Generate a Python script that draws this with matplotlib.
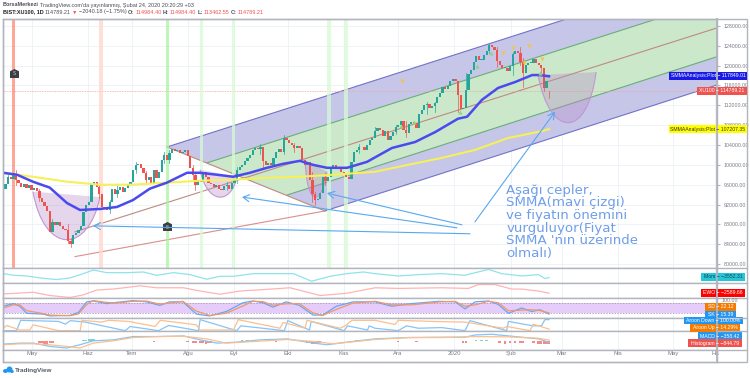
import matplotlib
matplotlib.use("Agg")
import matplotlib.pyplot as plt
from matplotlib.path import Path
from matplotlib.patches import PathPatch, Polygon, Rectangle, Ellipse

W, H = 750, 378

# daily closes (thousands), one per bar
closes = [
    95.2, 96.2, 97.5, 97.2, 98.1, 96.9, 96.3, 95.6, 96.1, 95.4,
    95.9, 95.0, 95.4, 94.7, 93.4, 92.6, 91.6, 90.6, 86.5, 88.4,
    87.9, 88.4, 87.6, 87.0, 86.8, 84.6, 84.0, 85.8, 86.2, 86.9,
    87.6, 90.4, 91.9, 92.6, 96.1, 96.6, 95.5, 94.2, 91.5, 91.3,
    90.9, 92.5, 95.2, 94.2, 95.0, 95.6, 94.6, 95.3, 96.2, 96.6,
    99.0, 100.0, 100.2, 99.4, 98.3, 96.9, 97.5, 96.2, 98.9, 97.4,
    98.6, 101.0, 102.0, 101.0, 102.4, 103.2, 102.7, 103.0, 102.4, 102.6,
    102.9, 101.8, 99.4, 98.0, 95.9, 97.0, 96.5, 98.5, 97.6, 96.4,
    96.2, 95.5, 95.9, 95.2, 95.0, 95.7, 95.9, 95.2, 96.4, 97.2,
    99.0, 99.6, 99.9, 100.8, 101.3, 101.9, 102.9, 103.4, 103.1, 103.6,
    100.7, 99.9, 100.3, 99.9, 101.4, 102.6, 103.2, 102.6, 105.4, 105.0,
    104.4, 104.0, 103.4, 103.8, 103.4, 101.0, 100.0, 100.5, 97.0, 94.2,
    93.0, 93.2, 94.4, 97.5, 96.8, 97.6, 99.4, 100.0, 99.2, 99.3,
    98.6, 97.9, 97.5, 97.2, 100.5, 102.5, 103.0, 103.5, 103.6, 103.0,
    103.9, 105.0, 105.4, 106.9, 107.4, 107.0, 105.8, 106.9, 105.0, 105.8,
    106.6, 107.6, 108.0, 108.8, 107.0, 106.4, 108.2, 108.6, 108.4, 107.4,
    110.2, 111.0, 112.0, 112.2, 111.4, 111.8, 112.4, 113.6, 114.5, 115.6,
    115.2, 115.9, 116.8, 117.4, 116.8, 114.0, 111.2, 111.4, 115.0, 118.4,
    119.2, 120.8, 121.9, 121.2, 121.2, 122.2, 123.0, 124.1, 123.7, 123.2,
    121.0, 120.2, 119.6, 119.6, 119.0, 120.0, 122.4, 123.0, 122.6, 120.8,
    118.6, 120.2, 120.6, 120.6, 121.4, 120.6, 120.2, 119.5, 115.5, 116.8,
    114.79,
]
first_open = 94.6
last_open = 114.98

wick_bars = [2, 5, 14, 19, 25, 26, 37, 41, 44, 51, 55, 62, 64, 73, 74, 86, 90, 99, 100, 108,
             112, 119, 120, 124, 137, 143, 151, 155, 163, 166, 175, 178, 187, 190, 196, 199, 200, 207, 208, 210]
wick_highs = [98.0, 99.0, 95.2, 89.0, 88.0, 85.2, 96.0, 93.0, 96.0, 100.6, 98.8, 102.6, 103.0, 99.9, 98.6, 96.6, 99.6,
              104.2, 103.4, 106.0, 104.4, 98.5, 94.6, 98.4, 104.2, 107.6, 108.0, 108.8, 112.6, 112.6, 117.0, 118.6, 124.6,
              123.8, 122.8, 123.8, 121.6, 120.2, 119.6, 114.98]
wick_lows = [96.5, 96.0, 92.8, 87.2, 84.2, 83.4, 93.4, 90.2, 93.6, 98.4, 96.2, 100.4, 100.4, 96.9, 95.0, 94.9, 96.4,
             102.2, 99.4, 102.2, 102.6, 92.6, 92.0, 96.0, 102.4, 105.6, 106.2, 105.6, 110.2, 110.6, 110.6, 114.6, 122.6,
             119.8, 118.2, 120.2, 115.6, 118.2, 114.8, 113.46]

smma_x = [0, 5.4, 11.5, 18, 24.6, 29.6, 37.3, 43.8, 50, 56.5, 63, 70.8, 75.8, 82.3, 88.5, 95, 101.5, 107.7, 114.2, 119.2,
          124.6, 132.3, 140, 149.6, 158.5, 166.2, 175, 178.5, 184.2, 190.4, 197, 203.5, 206.5, 210]
smma_fast = [98.4, 98.0, 96.6, 95.4, 92.3, 90.9, 91.1, 91.5, 92.9, 95.2, 96.4, 98.4, 98.4, 98.0, 97.6, 98.4, 99.4, 100.2,
             100.8, 100.0, 99.4, 99.4, 100.6, 103.4, 104.6, 106.6, 109.3, 109.7, 113.1, 115.5, 116.7, 118.1, 118.1, 117.85]
smma2_x = [0, 11.5, 24.6, 37.3, 50, 63, 75.8, 88.5, 101.5, 114.2, 127, 143.1, 155.8, 168.8, 181.5, 194.2, 207.3, 210]
smma_slow = [98.4, 97.6, 96.6, 96.0, 96.0, 96.4, 96.8, 97.0, 97.4, 97.6, 98.0, 98.6, 100.0, 101.4, 103.0, 105.4, 106.8, 107.2]

# channel corners (bar, price)
outer_channel = [(63.1, 103.6), (217.3, 129.5), (274.6, 129.5), (274.6, 116.1), (123.8, 90.7)]
inner_channel = [(78.5, 100.4), (251.9, 129.5), (274.6, 129.5), (274.6, 121.8), (109.2, 93.9)]
median_x, median_y = [27.7, 274.6], [86.5, 127.6]
handle_x, handle_y = [27.7, 123.8], [81.5, 90.7]
base_x, base_y = [63.1, 123.8], [103.6, 90.7]

# arcs: start, lowest point, end
arcs = [
    [(11.5, 94.6), (24.0, 84.9), (37.3, 93.5)],
    [(75.8, 99.0), (83.5, 93.5), (90.0, 97.6)],
    [(116.2, 101.0), (118.0, 93.5), (124.6, 98.6)],
    [(205.8, 118.1), (218.8, 108.5), (228.1, 118.7)],
]

strong_red, pale_red, strong_green = [4.2], [37.7], [63.1]
pale_green = [76.2, 88.8, 125.4, 131.9]

yellow_x = [153.5, 192.3, 196, 200.4, 202.3, 207.3]
yellow_y = [116.8, 122.6, 123.6, 120.6, 124.0, 121.4]
green_x = [153, 158, 175.8, 182.3, 187.7, 206.5]
green_y = [107.8, 108.6, 110.6, 120.0, 122.6, 118.6]

# (tail bar, tail price, head bar, head price)
arrows = [
    (179.6, 86.1, 34.6, 87.7),
    (174.6, 87.3, 91.9, 93.5),
    (176.5, 87.9, 124.6, 94.3),
    (181.5, 88.5, 212.3, 110.7),
]

note = "Aşağı cepler,\nSMMA(mavi çizgi)\nve fiyatın önemini\nvurguluyor(Fiyat\nSMMA 'nın üzerinde\nolmalı)"

price_ticks = [80, 84, 88, 92, 96, 100, 104, 108, 112, 116, 120, 124, 128]
month_x = [11.2, 32.7, 49.6, 71.2, 88.8, 109.6, 131.2, 151.9, 173.5, 195.4, 215, 236.5, 257.7, 273.8]
month_labels = ["May", "Haz", "Tem", "Ağu", "Eyl", "Eki", "Kas", "Ara", "2020", "Şub", "Mar", "Nis", "May", "Ha"]

mom_x = [0.1, 4, 9.1, 14.2, 20.6, 25.8, 30.9, 34.7, 39.9, 47.6, 54, 59.1, 65.5, 71.9, 78.3, 83.5, 88.6, 96.3, 105.3,
         111.7, 118.7, 125.8, 132.2, 138.6, 143.1, 152, 159.7, 168.7, 177.7, 186.7, 191.8, 199.5, 205.9, 208.5, 210]
mom = [1200, -800, -1600, -4000, -6000, -4000, 1200, 5600, 2400, 2400, 3200, -800, 2400, 0, -5600, -2000, -2000, 1200,
       1200, 1200, -8000, -2000, 1200, 3200, 1200, -1600, 0, 1200, -800, 6400, 1200, -1600, 0, -4800, -3552]

ewo_x = [0.1, 11.7, 18, 25.8, 30.9, 36, 42.4, 52.7, 59.1, 69.4, 75.8, 83.5, 91.2, 101.4, 110.4, 122, 132.2, 143.1,
         152, 168.7, 179, 182.8, 189.2, 195.6, 199.5, 205.9, 210]
ewo = [-3200, -1700, -4700, -6500, -4100, 400, 1300, 4300, 2500, 2500, -500, -3500, -500, 1000, 2500, -4700, -2600,
       2500, 1900, 2500, 1900, 5500, 5500, 1300, 1300, -500, -2589]

stoch_x = [0.1, 4, 6.5, 9.1, 15.5, 18, 25.8, 29, 32.2, 34.7, 39.9, 43.7, 50, 55.1, 60.3, 64.1, 69.2, 74.4, 79.5, 85.9,
           92.3, 96.1, 100, 103.8, 108.9, 114, 119.2, 123, 128.2, 134.6, 143.1, 149.5, 157.2, 167.5, 173.9, 177.7,
           181.6, 186.7, 190.5, 194.4, 199.5, 203.3, 206.5, 210]
stoch_k = [60, 75, 60, 20, 15, 5, 8, 25, 85, 90, 75, 82, 92, 85, 65, 85, 85, 15, 5, 30, 80, 90, 80, 55, 85, 65, 10, 10,
           60, 85, 85, 60, 75, 88, 85, 45, 85, 90, 70, 20, 50, 30, 40, 15.39]
stoch_d = [50, 68, 68, 35, 18, 10, 6, 16, 70, 92, 82, 78, 88, 90, 72, 78, 88, 32, 8, 20, 62, 88, 86, 66, 74, 75, 22, 8,
           42, 78, 88, 68, 68, 84, 88, 60, 68, 88, 80, 34, 38, 40, 36, 22.12]

aroon_down_x = [0.1, 5.2, 6.8, 21.4, 24, 25.9, 31.6, 47, 48.9, 59.8, 63.7, 75.2, 75.8, 89.9, 91.5, 108.2, 109.5, 117.9,
                118.5, 131.2, 132.5, 140.2, 140.8, 143.1, 152, 155.2, 159.7, 168.7, 177.7, 179.6, 193.7, 194.4, 199.5,
                203.9, 207.1, 208.4, 210]
aroon_down = [0, 0, 94, 84, 59, 91, 78, 0, 38, 0, 47, 0, 100, 0, 44, 0, 91, 6, 84, 0, 44, 6, 44, 22, 0, 44, 22, 28, 0,
              91, 0, 84, 62, 44, 44, 100, 100]
aroon_up_x = [0.1, 1.4, 6.5, 10.3, 11.6, 21.4, 29.7, 30.3, 38, 40.6, 48.3, 58.5, 60.5, 74.4, 75.8, 88.6, 90.5, 106.5,
              107.8, 116.2, 116.9, 129.7, 131.6, 134.2, 143.1, 150.8, 152, 164.8, 177.7, 192.4, 193.7, 202.7, 203.9, 210]
aroon_up = [22, 47, 6, 6, 53, 0, 0, 94, 78, 94, 84, 38, 94, 53, 6, 6, 100, 22, 75, 22, 94, 22, 44, 94, 94, 56, 94, 84,
            78, 22, 38, 0, 59, 14.29]

macd_x = [0.1, 6.5, 11.7, 18, 24.4, 29.6, 34.7, 42.4, 50, 59.1, 69.4, 75.8, 82.3, 89.9, 98.9, 109.2, 119.5, 124.6,
          132.2, 143.1, 155.9, 168.7, 177.7, 181.6, 188, 197, 206, 210]
macd = [-960, -600, -600, -1800, -2400, -1200, 240, 600, 1800, 1800, 2040, 600, -600, -240, 600, 960, -600, -1200,
        -240, 960, 1440, 1560, 1560, 2400, 2640, 1800, 960, -358]
signal_x = [0.1, 6.5, 11.7, 18, 24.4, 29.6, 34.7, 42.4, 50, 59.1, 69.4, 78.3, 85.9, 92.3, 109.2, 119.5, 127.2, 143.1,
            155.9, 168.7, 181.6, 194.4, 205.9, 210]
signal = [-1200, -840, -840, -1200, -1800, -2400, -600, 240, 1440, 1800, 1920, 960, -600, -240, 720, 0, -840, 720, 1440,
          1440, 1800, 1680, 1200, 486]
hist_x = [14, 15, 16, 17, 18, 19, 31, 32, 33, 34, 35, 36, 50, 58, 71, 73, 74, 76, 77, 78, 79, 80, 90, 92, 94, 96, 98,
          105, 117, 118, 119, 120, 121, 122, 134, 136, 138, 140, 152, 159, 168, 170, 177, 178, 180, 182, 184, 186,
          191, 193, 195, 197, 199, 200, 204, 206, 207, 208, 209, 210]
hist = [-500, -650, -750, -800, -650, -400, 400, 600, 800, 900, 800, 600, 350, -300, -350, -500, -400, -600, -700, -800,
        -700, -600, 350, 500, 600, 500, 350, -300, -600, -700, -800, -850, -700, -500, 350, 500, 600, 500, -300, -300,
        300, 350, -500, -600, 350, 500, 600, 500, -600, -750, -700, -600, -600, -700, -600, -750, -800, -820, -830, -844]

xlim = (0, 274.6)
grid_c = "#eaf1f5"
frame_c = "#b2b5be"
up_c, down_c = "#26a69a", "#ef5350"


def pane(top, bottom):
    ax = fig.add_axes([3 / W, 1 - bottom / H, 714 / W, (bottom - top) / H])
    ax.set_xlim(*xlim)
    ax.set_xticks(month_x)
    ax.set_xticklabels([])
    ax.set_yticks([])
    ax.tick_params(length=0)
    ax.grid(True, axis="x", color=grid_c, lw=0.6)
    ax.set_axisbelow(True)
    for s in ax.spines.values():
        s.set_color(frame_c)
        s.set_linewidth(1.0)
    return ax


def tag(x0, x1, y, label, bg, fg="white"):
    fig.add_artist(Rectangle((x0 / W, 1 - (y + 3.6) / H), (x1 - x0) / W, 7.2 / H, color=bg, lw=0))
    fig.text((x0 + x1) / 2 / W, 1 - y / H, label, color=fg, fontsize=3.7, ha="center", va="center", family="Liberation Sans")


def row(x, y, pieces, size=3.95):
    # lay pieces of header text one after the other
    r = fig.canvas.get_renderer()
    for label, color, weight in pieces:
        t = fig.text(x / W, 1 - y / H, label, color=color, fontsize=size, fontweight=weight, va="center",
                     family=["Liberation Sans", "DejaVu Sans"])
        x = t.get_window_extent(r).x1 + 1.2


fig = plt.figure(figsize=(W / 100, H / 100), dpi=100, facecolor="white")

ax = pane(18.5, 268)
ax.set_ylim(79.2, 129.5)
ax.set_yticks(price_ticks)
ax.set_yticklabels([f"{p * 1000:.2f}" for p in price_ticks], fontsize=3.8, color="#787b86", family="Liberation Sans")
ax.yaxis.tick_right()
ax.tick_params(axis="y", length=2, color=frame_c, pad=2.5)
ax.grid(True, axis="y", color=grid_c, lw=0.6)

ax.add_patch(Polygon(outer_channel, closed=True, fc="#c6c6e8", ec="none", zorder=1))
ax.add_patch(Polygon(inner_channel, closed=True, fc="#cbe8cb", ec="none", zorder=1.1))
for i, j in [(0, 1), (3, 4)]:
    ax.plot([outer_channel[i][0], outer_channel[j][0]], [outer_channel[i][1], outer_channel[j][1]], color="#7272c8", lw=0.8, zorder=1.2)
    ax.plot([inner_channel[i][0], inner_channel[j][0]], [inner_channel[i][1], inner_channel[j][1]], color="#6aae78", lw=0.8, zorder=1.2)
ax.plot(median_x, median_y, color="#c08a80", lw=0.8, zorder=1.2)
ax.plot(handle_x, handle_y, color="#d98f8a", lw=0.8, zorder=1.2)
ax.plot(base_x, base_y, color="#c08a80", lw=0.8, zorder=1.2)
ax.axhline(closes[-1], color="#f5a5a0", lw=0.6, ls=(0, (1, 1)), zorder=1.3)

for xs, c in [(strong_red, "#ff8a70"), (pale_red, "#ffd6cc"), (strong_green, "#a8f5a0"), (pale_green, "#d8fad4")]:
    for b in xs:
        ax.axvspan(b - 0.6, b + 0.6, color=c, lw=0, alpha=0.75, zorder=1.4)

for start, low, end in arcs:
    # cubic with both handles at one level, so the curve bottoms out at the lowest point
    level = (low[1] - (start[1] + end[1]) / 8) * 4 / 3
    c1 = (start[0] + (low[0] - start[0]) * 0.35, level)
    c2 = (end[0] - (end[0] - low[0]) * 0.35, level)
    codes = [Path.MOVETO, Path.CURVE4, Path.CURVE4, Path.CURVE4]
    ax.add_patch(PathPatch(Path([start, c1, c2, end], codes), fc="#b58bc9", ec="none", alpha=0.35, zorder=1.5))
    ax.add_patch(PathPatch(Path([start, c1, c2, end], codes), fc="none", ec="#c296d2", lw=0.8, zorder=1.6))

opens = [first_open] + closes[:-1]
opens[-1] = last_open
bars = list(range(len(closes)))
colors = [up_c if c >= o else down_c for o, c in zip(opens, closes)]
for b, hi, lo in zip(wick_bars, wick_highs, wick_lows):
    ax.plot([b, b], [lo, hi], color=colors[b], lw=0.5, zorder=3)
ax.bar(bars, [max(abs(c - o), 0.15) for o, c in zip(opens, closes)], bottom=[min(o, c) for o, c in zip(opens, closes)],
       width=0.85, color=colors, lw=0, zorder=3.1)

ax.plot(smma2_x, smma_slow, color="#f7f056", lw=1.5, zorder=4)
ax.plot(smma_x, smma_fast, color="#4a4aee", lw=1.8, zorder=4.1)
ax.scatter(yellow_x, yellow_y, marker="v", s=9, color="#f5c542", lw=0, zorder=4.2)
ax.scatter(green_x, green_y, marker="^", s=9, color="#8fd47c", lw=0, zorder=4.2)

flag = [(-1, -1), (1, -1), (1, 0.5), (0, 1), (-1, 0.5), (-1, -1)]
for b, p, s in [(4.2, 118.6, "S"), (63.1, 87.6, "E")]:
    ax.scatter([b], [p], marker=flag, s=42, color="#3b3f45", lw=0, zorder=5)
    ax.text(b, p - 0.2, s, color="#c9c9c9", fontsize=3.5, ha="center", va="center", zorder=5.1)

for tx, ty, hx, hy in arrows:
    ax.annotate("", xy=(hx, hy), xytext=(tx, ty), zorder=6,
                arrowprops=dict(arrowstyle="->,head_length=0.45,head_width=0.25", color="#58a8f0", lw=0.8, shrinkA=0, shrinkB=0))
ax.text(193.6, 96.2, note, color="#6f9eea", fontsize=9.6, va="top", linespacing=0.97, zorder=6)

# lower panes
ax1 = pane(268, 282.5)
ax1.plot(mom_x, mom, color="#8fe3ea", lw=0.9)
ax1.set_ylim(-9550, 8050)

ax2 = pane(282.5, 298)
ax2.plot(ewo_x, ewo, color="#ffb4b4", lw=0.9)
ax2.set_ylim(-7000, 7400)

ax3 = pane(298, 318)
ax3.axhspan(20, 80, color="#e6ccfb", lw=0)
ax3.axhline(80, color="#9a8aa8", lw=0.5, ls=(0, (2, 2)))
ax3.axhline(20, color="#9a8aa8", lw=0.5, ls=(0, (2, 2)))
ax3.plot(stoch_x, stoch_k, color="#64a8f2", lw=0.9)
ax3.plot(stoch_x, stoch_d, color="#f0986a", lw=0.9)
ax3.set_ylim(-7, 107)

ax4 = pane(318, 331)
ax4.plot(aroon_down_x, aroon_down, color="#86c4f5", lw=0.9)
ax4.plot(aroon_up_x, aroon_up, color="#fbc08e", lw=0.9)
ax4.set_ylim(-3, 115)

ax5 = pane(331, 350)
ax5.bar(hist_x, hist, width=0.9, color=["#7fd3ca" if h > 0 else "#f58a88" for h in hist], lw=0)
ax5.plot(macd_x, macd, color="#86c4f5", lw=0.9)
ax5.plot(signal_x, signal, color="#fbc08e", lw=0.9)
ax5.set_ylim(-3120, 3840)

ax6 = pane(350, 362)
ax6.set_ylim(0, 1)
ax6.grid(False)
ax6.set_xticklabels(month_labels, fontsize=4.3, color="#787b86", family="Liberation Sans")
ax6.tick_params(axis="x", direction="in", pad=-8, length=0)

# frame of the price scale
fig.add_artist(Rectangle((3 / W, 1 - 362 / H), 744 / W, 343.5 / H, fc="none", ec=frame_c, lw=1.0))
fig.add_artist(plt.Line2D([717 / W, 717 / W], [1 - 362 / H, 1 - 18.5 / H], color=frame_c, lw=1.3))
for yy in [268, 282.5, 298, 318, 331, 350]:
    fig.add_artist(plt.Line2D([717 / W, 747 / W], [1 - yy / H, 1 - yy / H], color=frame_c, lw=1.0))
fig.text(722 / W, 1 - 300.7 / H, "100.00", color="#787b86", fontsize=3.8, va="center", family="Liberation Sans")

tag(669, 747, 76, "SMMAAnalysis:Plot − 117849.01", "#1a1ae6")
tag(697, 747, 91, "XU100 − 114789.21", "#ef5350")
tag(669, 747, 129, "SMMAAnalysis:Plot − 107207.35", "#ffff00", "#333333")
tag(701, 745, 277, "Mom − −3552.31", "#26c6da", "#12454c")
tag(701, 745, 293, "EWO − −2589.66", "#ff0000")
tag(705, 736, 307, "SD − 22.12", "#f57c00")
tag(705, 736, 314.5, "SK − 15.39", "#2196f3")
tag(684, 743, 320.5, "Aroon Down − 100.00%", "#2196f3")
tag(690, 740, 328, "Aroon Up − 14.29%", "#f57c00")
tag(698, 742, 336, "MACD − −358.42", "#2196f3")
tag(688, 742, 343, "Histogram − −844.79", "#ef5350")

# header
red = "#ef5350"
dark = "#4a4e58"
row(3, 5, [("BorsaMerkezi", dark, "bold"), ("TradingView.com'da yayınlanmış, Şubat 24, 2020 20:20:29 +03", dark, "normal")])
row(3, 12, [("BIST:XU100, 1D", "#222222", "bold"), ("114789.21", dark, "normal"), ("▼", red, "normal"),
            ("−2040.18 (−1.75%)", dark, "normal"), ("O:", dark, "bold"), ("114984.40", red, "normal"), ("H:", dark, "bold"),
            ("114984.40", red, "normal"), ("L:", dark, "bold"), ("113462.55", red, "normal"), ("C:", dark, "bold"),
            ("114789.21", red, "normal")])

# logo
for cx, cy, ew, eh in [(5.5, 371, 5, 4), (9.5, 369.5, 6, 6), (12, 371.5, 3.5, 3)]:
    fig.add_artist(Ellipse((cx / W, 1 - cy / H), ew / W, eh / H, color="#2196f3", lw=0))
fig.text(14.5 / W, 1 - 370.5 / H, "TradingView", color="#555a66", fontsize=4.6, fontweight="bold", va="center", family="Liberation Sans")

fig.savefig("out.png", dpi=100)
